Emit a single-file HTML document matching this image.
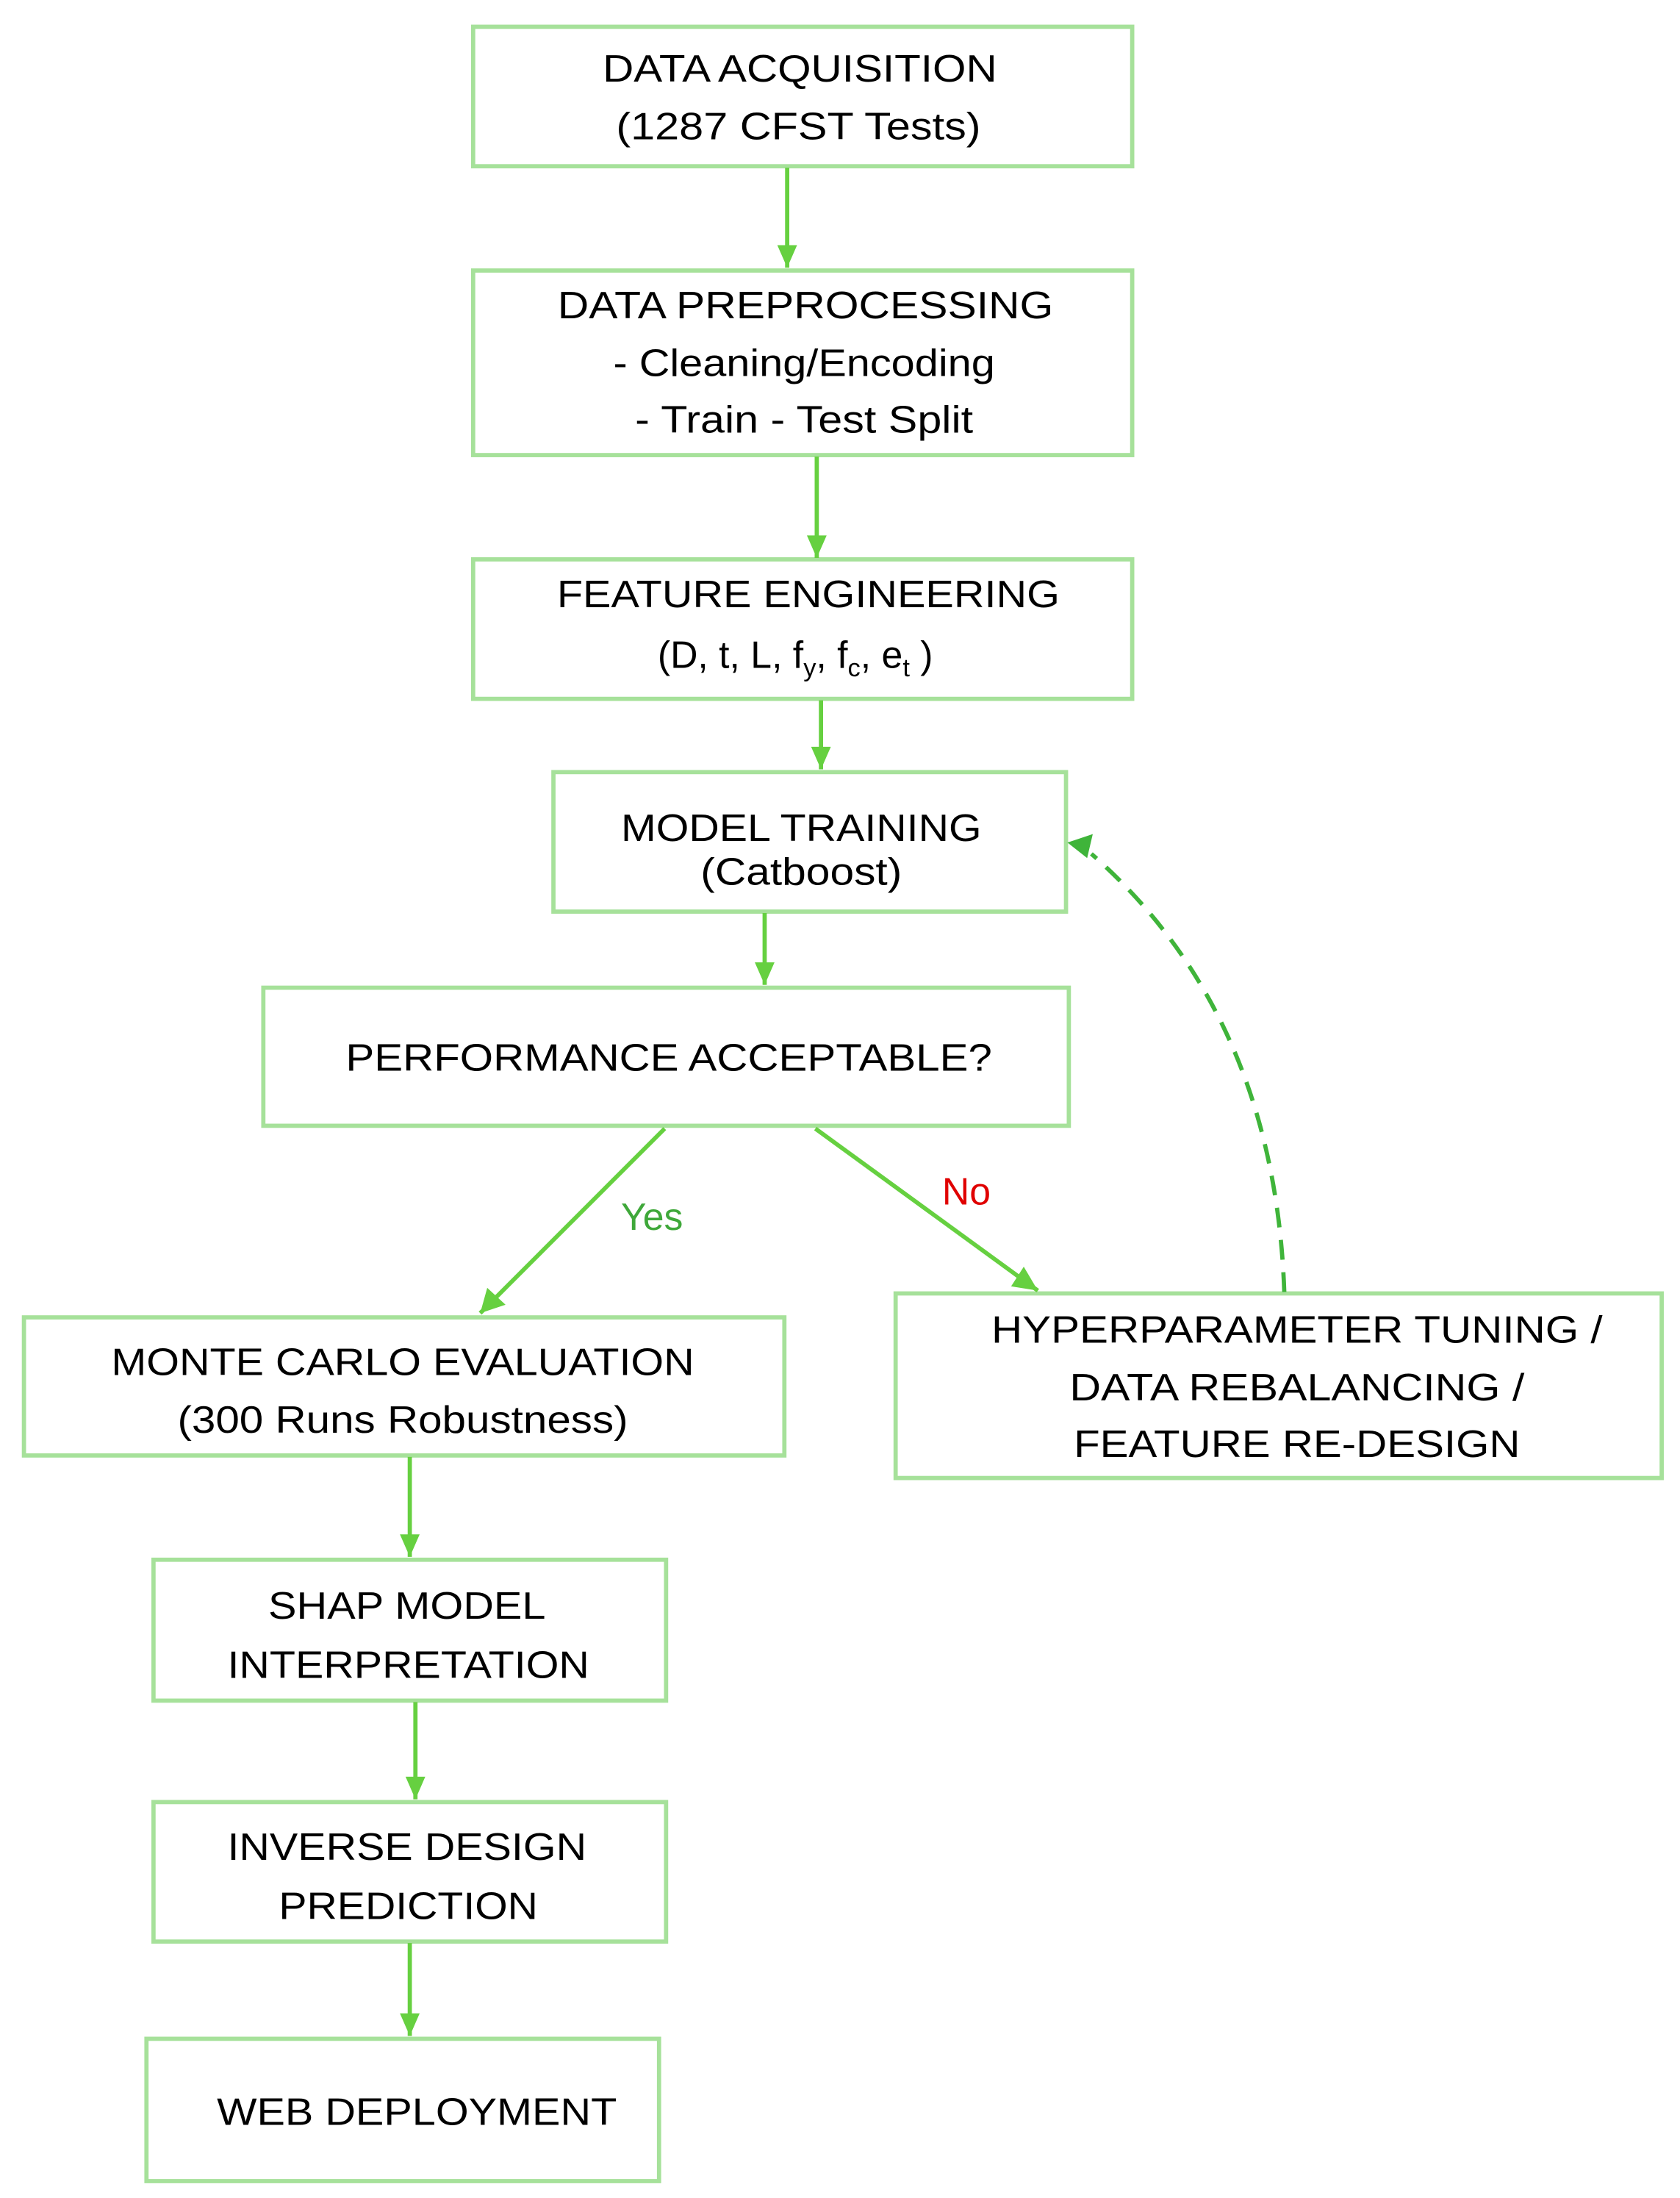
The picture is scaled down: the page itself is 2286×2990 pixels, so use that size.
<!DOCTYPE html>
<html><head><meta charset="utf-8"><style>
html,body{margin:0;padding:0;background:#fff;}
svg{display:block;}
text{font-family:"Liberation Sans",Arial,sans-serif;font-size:27px;fill:#000;}
</style></head><body>
<svg width="2286" height="2990" viewBox="0 0 1193 1560" preserveAspectRatio="none" xmlns="http://www.w3.org/2000/svg">
<defs>
<marker id="a" viewBox="0 0 10 10" refX="10" refY="5" markerWidth="6" markerHeight="6" markerUnits="userSpaceOnUse" orient="auto"><path d="M0,0 L10,5 L0,10 z" fill="#66d040"/></marker>
</defs>
<g fill="none" stroke="#a6e19a" stroke-width="3">
<rect x="336" y="19" width="468" height="99"/>
<rect x="336" y="192" width="468" height="131"/>
<rect x="336" y="397" width="468" height="99"/>
<rect x="393" y="548" width="364" height="99"/>
<rect x="187" y="701" width="572" height="98"/>
<rect x="17" y="935" width="540" height="98"/>
<rect x="636" y="918" width="544" height="131"/>
<rect x="109" y="1107" width="364" height="100"/>
<rect x="109" y="1279" width="364" height="99"/>
<rect x="104" y="1447" width="364" height="101"/>
</g>
<g stroke="#66d040" stroke-width="3" fill="none">
<line x1="559" y1="119" x2="559" y2="190"/>
<line x1="580" y1="324" x2="580" y2="396"/>
<line x1="583" y1="497" x2="583" y2="546"/>
<line x1="543" y1="648" x2="543" y2="699"/>
<line x1="472" y1="801" x2="341" y2="932"/>
<line x1="579" y1="801" x2="737" y2="916"/>
<line x1="291" y1="1034" x2="291" y2="1105"/>
<line x1="295" y1="1208" x2="295" y2="1277"/>
<line x1="291" y1="1379" x2="291" y2="1445"/>
</g>
<g fill="#66d040">
<path d="M552,174 L566,174 L559,190 z"/>
<path d="M573,380 L587,380 L580,396 z"/>
<path d="M576,530 L590,530 L583,546 z"/>
<path d="M536,683 L550,683 L543,699 z"/>
<path d="M284,1089 L298,1089 L291,1105 z"/>
<path d="M288,1261 L302,1261 L295,1277 z"/>
<path d="M284,1429 L298,1429 L291,1445 z"/>
<path d="M341,932 L346,914 L359,926 z"/>
<path d="M737,916 L718,913 L727,899 z"/>
</g>
<path d="M912,917 Q905,720 775,606" stroke="#3fb43a" stroke-width="3" fill="none" stroke-dasharray="14,9"/>
<path d="M758,598 L776,592 L772,609 z" fill="#3fb43a"/>
<g text-anchor="middle">
<text x="568" y="58" textLength="280" lengthAdjust="spacingAndGlyphs">DATA ACQUISITION</text>
<text x="567" y="99" textLength="259" lengthAdjust="spacingAndGlyphs">(1287 CFST Tests)</text>
<text x="572" y="226" textLength="352" lengthAdjust="spacingAndGlyphs">DATA PREPROCESSING</text>
<text x="571" y="267" textLength="271" lengthAdjust="spacingAndGlyphs">- Cleaning/Encoding</text>
<text x="571" y="307" textLength="240" lengthAdjust="spacingAndGlyphs">- Train - Test Split</text>
<text x="574" y="431" textLength="357" lengthAdjust="spacingAndGlyphs">FEATURE ENGINEERING</text>
<text x="569" y="597" textLength="256" lengthAdjust="spacingAndGlyphs">MODEL TRAINING</text>
<text x="569" y="628" textLength="143" lengthAdjust="spacingAndGlyphs">(Catboost)</text>
<text x="475" y="760" textLength="459" lengthAdjust="spacingAndGlyphs">PERFORMANCE ACCEPTABLE?</text>
<text x="286" y="976" textLength="414" lengthAdjust="spacingAndGlyphs">MONTE CARLO EVALUATION</text>
<text x="286" y="1017" textLength="320" lengthAdjust="spacingAndGlyphs">(300 Runs Robustness)</text>
<text x="921" y="953" textLength="434" lengthAdjust="spacingAndGlyphs">HYPERPARAMETER TUNING /</text>
<text x="921" y="994" textLength="323" lengthAdjust="spacingAndGlyphs">DATA REBALANCING /</text>
<text x="921" y="1034" textLength="317" lengthAdjust="spacingAndGlyphs">FEATURE RE-DESIGN</text>
<text x="289" y="1149" textLength="197" lengthAdjust="spacingAndGlyphs">SHAP MODEL</text>
<text x="290" y="1191" textLength="257" lengthAdjust="spacingAndGlyphs">INTERPRETATION</text>
<text x="289" y="1320" textLength="255" lengthAdjust="spacingAndGlyphs">INVERSE DESIGN</text>
<text x="290" y="1362" textLength="184" lengthAdjust="spacingAndGlyphs">PREDICTION</text>
<text x="296" y="1508" textLength="284" lengthAdjust="spacingAndGlyphs">WEB DEPLOYMENT</text>
</g>
<text x="467" y="474">(D, t, L, f<tspan font-size="18" dy="6">y</tspan><tspan dy="-6">, f</tspan><tspan font-size="18" dy="6">c</tspan><tspan dy="-6">, e</tspan><tspan font-size="18" dy="6">t</tspan><tspan dy="-6"> )</tspan></text>
<text x="441" y="873" style="fill:#3fa83a">Yes</text>
<text x="669" y="855" style="fill:#e00000">No</text>
</svg>
</body></html>
